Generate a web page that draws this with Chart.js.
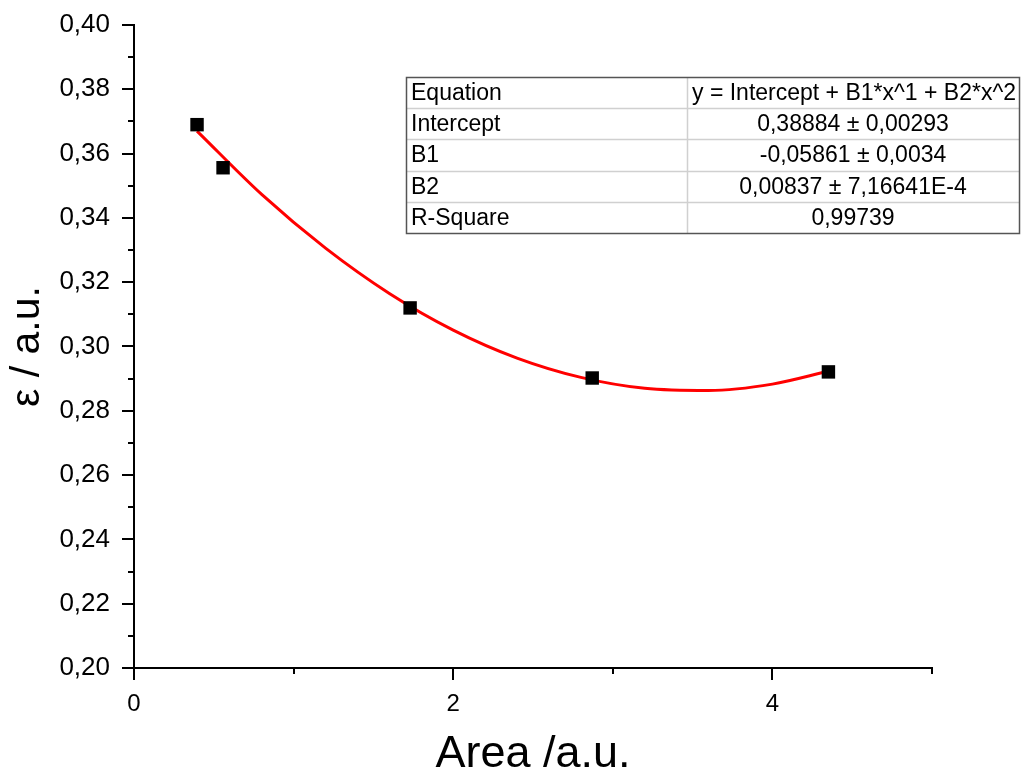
<!DOCTYPE html>
<html>
<head>
<meta charset="utf-8">
<script src="https://cdn.jsdelivr.net/npm/chart.js@4.4.1/dist/chart.umd.min.js"></script>
<style>
  body { margin: 0; background: #fff; }
  canvas { display: block; }
</style>
</head>
<body>
<canvas id="grafico" width="1021" height="773"></canvas>
<script>
// --- datos ---
const areaX = [0.395, 0.558, 1.730, 2.871, 4.351];
const epsY = [0.3690, 0.3556, 0.3120, 0.2902, 0.2921];

const ajusteX = [0.395, 0.8, 1.2, 1.6, 2.0, 2.4, 2.8, 3.2, 3.6, 4.0, 4.351];
const ajusteY = [0.3670, 0.3473, 0.3306, 0.3165, 0.3051, 0.2964, 0.2904, 0.2870, 0.2863, 0.2883, 0.2923];

// tabla de resultados del ajuste
const tablaEtiquetas = ['Equation', 'Intercept', 'B1', 'B2', 'R-Square'];
const tablaValores = ['y = Intercept + B1*x^1 + B2*x^2', '0,38884 ± 0,00293', '-0,05861 ± 0,0034', '0,00837 ± 7,16641E-4', '0,99739'];

const FUENTE = "'Liberation Sans', Arial, sans-serif";

// Ticks mayores y menores hacia afuera (estilo Origin)
const ticksPlugin = {
    id: 'ticksOrigin',
    afterDraw(chart) {
        const ctx = chart.ctx;
        const sx = chart.scales.x, sy = chart.scales.y;
        ctx.save();
        ctx.strokeStyle = '#000';
        ctx.lineWidth = 2;
        ctx.beginPath();
        // eje x: mayores en 0,2,4 ; menores en 1,3,5
        for (let v = 0; v <= 5; v++) {
            const px = Math.round(sx.getPixelForValue(v));
            const len = (v % 2 === 0) ? 12 : 6;
            ctx.moveTo(px, sx.top);
            ctx.lineTo(px, sx.top + len);
        }
        // eje y: mayores cada 0,02 ; menores cada 0,01
        for (let i = 0; i <= 20; i++) {
            const v = 0.2 + i * 0.01;
            const py = Math.round(sy.getPixelForValue(v));
            const len = (i % 2 === 0) ? 12 : 6;
            ctx.moveTo(sy.right, py);
            ctx.lineTo(sy.right - len, py);
        }
        ctx.stroke();
        ctx.restore();
    }
};

// Tabla con los parámetros del ajuste
const tablaPlugin = {
    id: 'tablaAjuste',
    afterDraw(chart) {
        const ctx = chart.ctx;
        const izq = 406, arriba = 77, col = 687, der = 1019, fila = 31.2;
        const abajo = arriba + fila * tablaEtiquetas.length;
        ctx.save();
        ctx.fillStyle = '#fff';
        ctx.fillRect(izq, arriba, der - izq, abajo - arriba);
        // líneas internas
        ctx.strokeStyle = '#d0d0d0';
        ctx.lineWidth = 1.5;
        ctx.beginPath();
        for (let i = 1; i < tablaEtiquetas.length; i++) {
            const y = Math.round(arriba + i * fila) + 0.5;
            ctx.moveTo(izq, y);
            ctx.lineTo(der, y);
        }
        ctx.moveTo(col + 0.5, arriba);
        ctx.lineTo(col + 0.5, abajo);
        ctx.stroke();
        // borde exterior
        ctx.strokeStyle = '#555';
        ctx.lineWidth = 1.5;
        ctx.strokeRect(izq + 0.5, arriba + 0.5, der - izq, abajo - arriba);
        // textos
        ctx.fillStyle = '#000';
        ctx.font = '23px ' + FUENTE;
        ctx.textBaseline = 'middle';
        for (let i = 0; i < tablaEtiquetas.length; i++) {
            const yc = arriba + i * fila + fila / 2 + 1;
            ctx.textAlign = 'left';
            ctx.fillText(tablaEtiquetas[i], izq + 5, yc);
            if (i === 0) {
                ctx.fillText(tablaValores[i], col + 5, yc);
            } else {
                ctx.textAlign = 'center';
                ctx.fillText(tablaValores[i], (col + der) / 2, yc);
            }
        }
        ctx.restore();
    }
};

const puntos = areaX.map((x, i) => ({ x: x, y: epsY[i] }));
const curva = ajusteX.map((x, i) => ({ x: x, y: ajusteY[i] }));

const chart = new Chart(document.getElementById('grafico'), {
    type: 'scatter',
    data: {
        datasets: [
            {
                label: 'Datos',
                data: puntos,
                pointStyle: 'rect',
                pointRadius: 9.5,
                pointHoverRadius: 9.5,
                backgroundColor: '#000',
                borderColor: '#000',
                borderWidth: 0,
                showLine: false
            },
            {
                label: 'Ajuste polinomial',
                data: curva,
                showLine: true,
                borderColor: '#ff0000',
                borderWidth: 3,
                pointRadius: 0,
                fill: false,
                cubicInterpolationMode: 'monotone'
            }
        ]
    },
    options: {
        responsive: false,
        animation: false,
        layout: { padding: { top: 25, right: 89, left: 0, bottom: 0 } },
        plugins: {
            legend: { display: false },
            tooltip: { enabled: false }
        },
        scales: {
            x: {
                type: 'linear',
                min: 0,
                max: 5,
                afterFit: s => { s.height = 105; s.paddingLeft = 0; s.paddingRight = 0; },
                grid: { display: false },
                border: { display: true, color: '#000', width: 2 },
                ticks: {
                    stepSize: 1,
                    padding: 14,
                    color: '#000',
                    font: { family: FUENTE, size: 24 },
                    maxRotation: 0,
                    callback: v => (v % 2 === 0 ? String(v) : '')
                },
                title: {
                    display: true,
                    text: 'Area /a.u.',
                    color: '#000',
                    font: { family: FUENTE, size: 45, lineHeight: 0.8 },
                    padding: { top: 0, bottom: 0 }
                }
            },
            y: {
                type: 'linear',
                min: 0.2,
                max: 0.4,
                afterFit: s => { s.width = 134; s.paddingTop = 0; s.paddingBottom = 0; },
                grid: { display: false },
                border: { display: true, color: '#000', width: 2 },
                ticks: {
                    stepSize: 0.02,
                    padding: 16,
                    color: '#000',
                    font: { family: FUENTE, size: 26 },
                    callback: v => v.toFixed(2).replace('.', ',')
                },
                title: {
                    display: true,
                    text: 'ε / a.u.',
                    color: '#000',
                    font: { family: FUENTE, size: 41, lineHeight: 1 },
                    padding: { top: 7, bottom: 0 }
                }
            }
        }
    },
    plugins: [ticksPlugin, tablaPlugin]
});
</script>
</body>
</html>
